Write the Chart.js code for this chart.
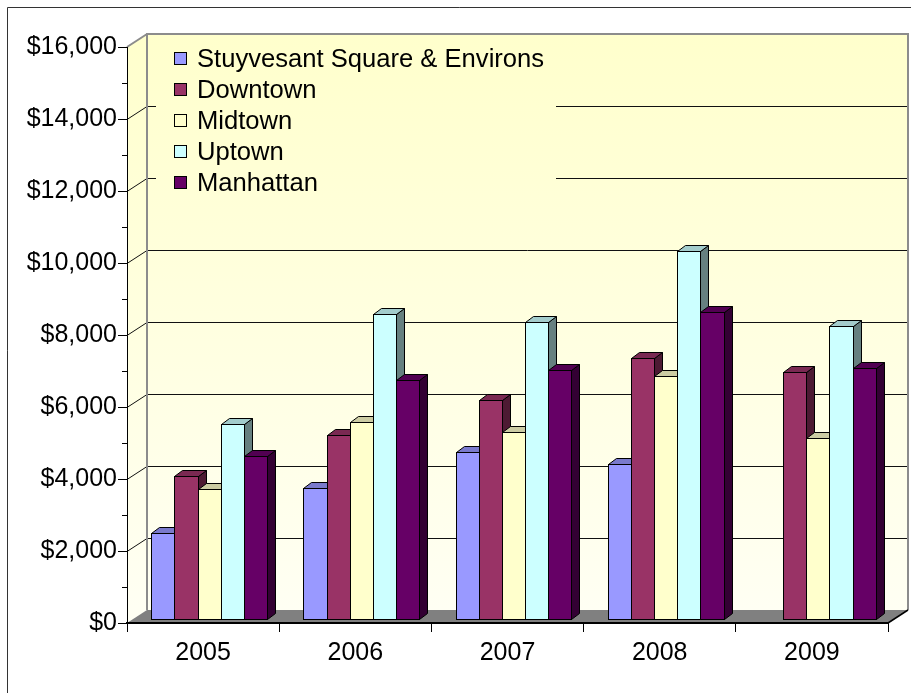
<!DOCTYPE html>
<html><head><meta charset="utf-8">
<script src="https://cdn.jsdelivr.net/npm/chart.js@4.4.1/dist/chart.umd.min.js"></script>
<style>html,body{margin:0;padding:0;background:#fff;}canvas{display:block;}</style>
</head><body>
<canvas id="c" width="911" height="693"></canvas>
<script>
// ---- data ----
const categories = ['2005', '2006', '2007', '2008', '2009'];
const seriesNames = ['Stuyvesant Square & Environs', 'Downtown', 'Midtown', 'Uptown', 'Manhattan'];
const stuyvesant = [2380, 3650, 4650, 4310, null];
const downtown   = [3970, 5100, 6080, 7250, 6850];
const midtown    = [3600, 5480, 5200, 6760, 5020];
const uptown     = [5420, 8460, 8240, 10230, 8130];
const manhattan  = [4530, 6640, 6910, 8520, 6960];
const yTickValues = [0, 2000, 4000, 6000, 8000, 10000, 12000, 14000, 16000];
const yMinorTickValues = [1000, 3000, 5000, 7000, 9000, 11000, 13000, 15000];

// ---- styles ----
const seriesColors = ['#9999FF', '#993366', '#FFFFCC', '#CCFFFF', '#660066'];
const FONT = '"Liberation Sans", Arial, sans-serif';
const WALL = {dx: 20, dy: -13};
const BAR_OFF = {dx: 6, dy: -4};
const BAR_DEPTH = {dx: 8, dy: -6};

function shade(hex, f) {
  const n = parseInt(hex.slice(1), 16);
  const r = Math.round(((n >> 16) & 255) * f), g = Math.round(((n >> 8) & 255) * f), b = Math.round((n & 255) * f);
  return `rgb(${r},${g},${b})`;
}
function fmtMoney(v) {
  return '$' + String(Math.round(v)).replace(/\B(?=(\d{3})+(?!\d))/g, ',');
}
function poly(ctx, pts) {
  ctx.beginPath();
  ctx.moveTo(pts[0][0], pts[0][1]);
  for (let k = 1; k < pts.length; k++) ctx.lineTo(pts[k][0], pts[k][1]);
  ctx.closePath();
}

const seriesValues = [stuyvesant, downtown, midtown, uptown, manhattan];

const wallsPlugin = {
  id: 'walls',
  beforeDraw(chart) {
    const {ctx, chartArea: a, scales: {y}} = chart;
    const x0 = a.left, x1 = a.right;
    const yTop = y.getPixelForValue(y.max), yBot = y.getPixelForValue(0);
    ctx.save();
    ctx.fillStyle = '#fff';
    ctx.fillRect(0, 0, chart.width, chart.height);
    // outer frame
    ctx.strokeStyle = '#333'; ctx.lineWidth = 1;
    ctx.beginPath(); ctx.moveTo(7.5, chart.height); ctx.lineTo(7.5, 7.5); ctx.lineTo(chart.width, 7.5); ctx.stroke();

    const g = ctx.createLinearGradient(0, yTop + WALL.dy, 0, yBot);
    g.addColorStop(0, '#FFFFCC');
    g.addColorStop(1, '#FFFFF4');
    // side wall
    ctx.fillStyle = g;
    poly(ctx, [[x0, yTop], [x0 + WALL.dx, yTop + WALL.dy], [x0 + WALL.dx, yBot + WALL.dy], [x0, yBot]]);
    ctx.fill();
    // back wall
    ctx.fillRect(x0 + WALL.dx, yTop + WALL.dy, x1 - x0, yBot - yTop);
    // floor
    ctx.fillStyle = '#808080';
    poly(ctx, [[x0, yBot], [x0 + WALL.dx, yBot + WALL.dy], [x1 + WALL.dx, yBot + WALL.dy], [x1, yBot]]);
    ctx.fill();
    // gridlines
    ctx.strokeStyle = '#111'; ctx.lineWidth = 1;
    yTickValues.forEach(v => {
      if (v === 0 || v === y.max) return;
      const py = Math.round(y.getPixelForValue(v)) + 0.5;
      ctx.beginPath();
      ctx.moveTo(x0, py); ctx.lineTo(x0 + WALL.dx, py + WALL.dy);
      ctx.lineTo(x1 + WALL.dx, py + WALL.dy);
      ctx.stroke();
    });
    // legend box (hides gridlines behind it)
    ctx.fillStyle = g;
    ctx.fillRect(156, yTop + WALL.dy + 3, 400, 172);
    // wall edges
    ctx.strokeStyle = '#8c8c8c'; ctx.lineWidth = 2;
    ctx.beginPath();
    ctx.moveTo(x0, yTop); ctx.lineTo(x0 + WALL.dx, yTop + WALL.dy);
    ctx.moveTo(x0 + WALL.dx, yBot + WALL.dy); ctx.lineTo(x0 + WALL.dx, yTop + WALL.dy);
    ctx.lineTo(x1 + WALL.dx, yTop + WALL.dy); ctx.lineTo(x1 + WALL.dx, yBot + WALL.dy);
    ctx.stroke();
    // floor right edge
    ctx.strokeStyle = '#000'; ctx.lineWidth = 1.5;
    ctx.beginPath(); ctx.moveTo(x1, yBot); ctx.lineTo(x1 + WALL.dx, yBot + WALL.dy); ctx.stroke();
    // minor ticks
    ctx.strokeStyle = '#000'; ctx.lineWidth = 1;
    yMinorTickValues.forEach(v => {
      const py = Math.round(y.getPixelForValue(v)) + 0.5;
      ctx.beginPath(); ctx.moveTo(x0 - 5, py); ctx.lineTo(x0, py); ctx.stroke();
    });
    // legend
    ctx.font = '25.6px ' + FONT;
    ctx.textBaseline = 'alphabetic';
    ctx.textAlign = 'left';
    chart.data.datasets.forEach((ds, i) => {
      const base = 67 + 31 * i;
      const sy = Math.round(base - 15) + 0.5;
      ctx.fillStyle = ds.backgroundColor;
      ctx.fillRect(174.5, sy, 12, 12);
      ctx.strokeStyle = '#000'; ctx.lineWidth = 1;
      ctx.strokeRect(174.5, sy, 12, 12);
      ctx.fillStyle = '#000';
      ctx.fillText(ds.label, 197, base);
    });
    ctx.restore();
  }
};

const barsPlugin = {
  id: 'bars3d',
  beforeDatasetsDraw(chart) {
    const ctx = chart.ctx;
    ctx.save();
    ctx.strokeStyle = '#000'; ctx.lineWidth = 1; ctx.lineJoin = 'miter';
    const nCat = chart.data.labels.length;
    for (let j = 0; j < nCat; j++) {
      chart.data.datasets.forEach((ds, i) => {
        const v = ds.data[j];
        if (v == null) return;
        const el = chart.getDatasetMeta(i).data[j];
        const p = el.getProps(['x', 'y', 'base', 'width'], true);
        const L = Math.round(p.x - p.width / 2 + BAR_OFF.dx) + 0.5;
        const R = Math.round(p.x + p.width / 2 + BAR_OFF.dx) + 0.5;
        const T = Math.round(p.y + BAR_OFF.dy) + 0.5;
        const B = Math.round(p.base + BAR_OFF.dy) + 0.5;
        const dx = BAR_DEPTH.dx, dy = BAR_DEPTH.dy;
        const col = seriesColors[i];
        // side
        ctx.fillStyle = shade(col, 0.5);
        poly(ctx, [[R, T], [R + dx, T + dy], [R + dx, B + dy], [R, B]]);
        ctx.fill(); ctx.stroke();
        // top
        ctx.fillStyle = shade(col, 0.8);
        poly(ctx, [[L, T], [L + dx, T + dy], [R + dx, T + dy], [R, T]]);
        ctx.fill(); ctx.stroke();
        // front
        ctx.fillStyle = col;
        ctx.fillRect(L, T, R - L, B - T);
        ctx.strokeRect(L, T, R - L, B - T);
      });
    }
    ctx.restore();
    return false;
  }
};

new Chart(document.getElementById('c'), {
  type: 'bar',
  data: {
    labels: categories,
    datasets: seriesValues.map((d, i) => ({
      label: seriesNames[i],
      data: d,
      backgroundColor: seriesColors[i],
      borderColor: '#000',
      borderWidth: 1
    }))
  },
  options: {
    responsive: false,
    animation: false,
    devicePixelRatio: 1,
    layout: {padding: {left: 0, right: 23, top: 47, bottom: 0}},
    datasets: {bar: {barPercentage: 1, categoryPercentage: 0.76}},
    plugins: {legend: {display: false}, tooltip: {enabled: false}},
    scales: {
      x: {
        grid: {offset: true, drawOnChartArea: false, drawTicks: true, tickLength: 9, color: '#000', lineWidth: 1},
        border: {display: true, color: '#000', width: 2},
        ticks: {font: {family: FONT, size: 25}, color: '#000', padding: 6, maxRotation: 0, autoSkip: false},
        afterFit(s) { s.height = 70; }
      },
      y: {
        min: 0, max: 16000,
        afterBuildTicks(s) { s.ticks = yTickValues.map(v => ({value: v})); },
        grid: {drawOnChartArea: false, drawTicks: true, tickLength: 9, color: '#000', lineWidth: 1},
        border: {display: true, color: '#000', width: 1},
        ticks: {font: {family: FONT, size: 25}, color: '#000', padding: 1, callback: v => fmtMoney(v)},
        afterFit(s) { s.width = 127; }
      }
    }
  },
  plugins: [wallsPlugin, barsPlugin]
});
</script>
</body></html>
